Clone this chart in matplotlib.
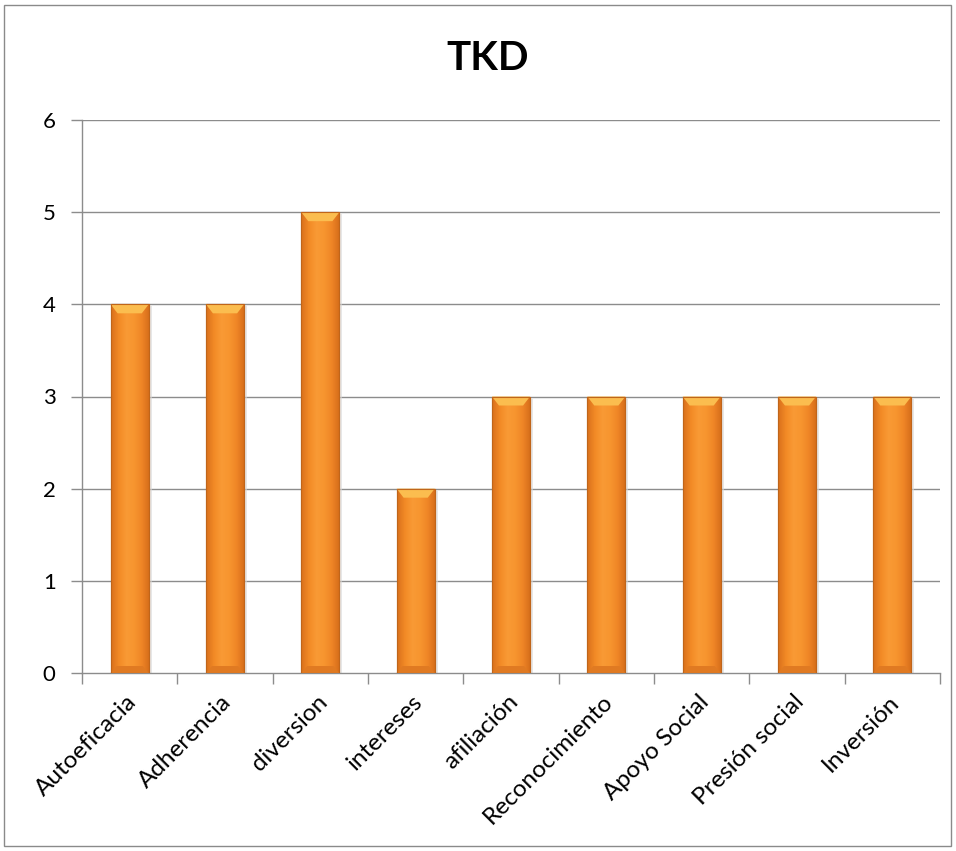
import numpy as np
import matplotlib
matplotlib.use("Agg")
import matplotlib.pyplot as plt
import matplotlib.transforms as mtransforms
from matplotlib.patches import Rectangle, Polygon
from matplotlib.colors import LinearSegmentedColormap

plt.rcParams['font.family'] = ['Lato', 'DejaVu Sans']

categories = ["Autoeficacia", "Adherencia", "diversion", "intereses", "afiliación",
              "Reconocimiento", "Apoyo Social", "Presión social", "Inversión"]
values = [4, 4, 5, 2, 3, 3, 3, 3, 3]
yticks = [0, 1, 2, 3, 4, 5, 6]
title = "TKD"

W, H = 956, 851
fig = plt.figure(figsize=(W / 100, H / 100), dpi=100)
fig.patch.set_facecolor("white")

# outer chart border
fig.add_artist(Rectangle((4 / W, 5 / H), 947 / W, 841 / H, transform=fig.transFigure,
                         fill=False, edgecolor="#8a8a8a", linewidth=1.0))

left, right, top, bottom = 82, 940, 120, 673
ax = fig.add_axes([left / W, 1 - bottom / H, (right - left) / W, (bottom - top) / H])

n = len(categories)
ax.set_xlim(0, n)
ax.set_ylim(0, 6)

grid_col = "#8c8c8c"
for y in yticks[1:]:
    ax.axhline(y, color=grid_col, linewidth=1.0, zorder=1)

for s in ["top", "right"]:
    ax.spines[s].set_visible(False)
for s in ["left", "bottom"]:
    ax.spines[s].set_color(grid_col)
    ax.spines[s].set_linewidth(1.0)

ax.set_yticks(yticks)
ax.set_yticklabels([str(v) for v in yticks], fontsize=16)
ax.tick_params(axis="y", length=8, width=1.0, color=grid_col, pad=11)
ax.set_xticks(np.arange(0, n + 1))
ax.set_xticklabels([])
ax.tick_params(axis="x", length=8, width=1.0, color=grid_col)

centers = np.arange(n) + 0.5
ax.set_xticks(centers, minor=True)
labels = ax.set_xticklabels(categories, minor=True, rotation=45, ha="right",
                            rotation_mode="anchor", fontsize=17.5)
ax.tick_params(axis="x", which="minor", length=0, pad=13)
shift = mtransforms.ScaledTranslation(-4 / 100, 0, fig.dpi_scale_trans)
for lab in labels:
    lab.set_transform(lab.get_transform() + shift)

# horizontal shading profile across a bar: darker edges, bright middle
cmap = LinearSegmentedColormap.from_list(
    "barshade", ["#d9701c", "#f28a26", "#f99a35", "#f7952f", "#ef8526", "#d46c1a"])
prof = np.linspace(0, 1, 64)[None, :]

bw = 0.4
px_x = n / (right - left)
px_y = 6 / (bottom - top)
for c, v in zip(centers, values):
    x0, x1 = c - bw / 2, c + bw / 2
    # soft shadow to the right
    ax.add_patch(Rectangle((x1, 0), 3 * px_x, v - 2 * px_y, facecolor="#d8d8d8",
                           edgecolor="none", alpha=0.6, zorder=2))
    ax.bar(c, v, width=bw, color="#f7952f", edgecolor="#c0651a", linewidth=0.8, zorder=3)
    im = ax.imshow(np.repeat(prof, 4, axis=0), cmap=cmap, aspect="auto",
                   extent=[x0, x1, 0, v], zorder=3.5, interpolation="bicubic")
    im.set_clip_path(Rectangle((x0, 0), bw, v, transform=ax.transData))
    # top bevel
    dx, dy = 7 * px_x, 9 * px_y
    ax.add_patch(Polygon([(x0, v), (x1, v), (x1 - dx, v - dy), (x0 + dx, v - dy)],
                         closed=True, facecolor="#fbbd4f", edgecolor="none", zorder=4))
    # bottom bevel
    dx, dy = 6 * px_x, 7 * px_y
    ax.add_patch(Polygon([(x0, 0), (x1, 0), (x1 - dx, dy), (x0 + dx, dy)],
                         closed=True, facecolor="#e07a22", edgecolor="none", zorder=4))
    ax.add_patch(Rectangle((x0, 0), bw, v, fill=False, edgecolor="#c0651a",
                           linewidth=0.8, zorder=5))

fig.text(488 / W, 1 - 59 / H, title, ha="center", va="center",
         fontsize=29, fontweight="bold")

fig.savefig("out.png", dpi=100)
